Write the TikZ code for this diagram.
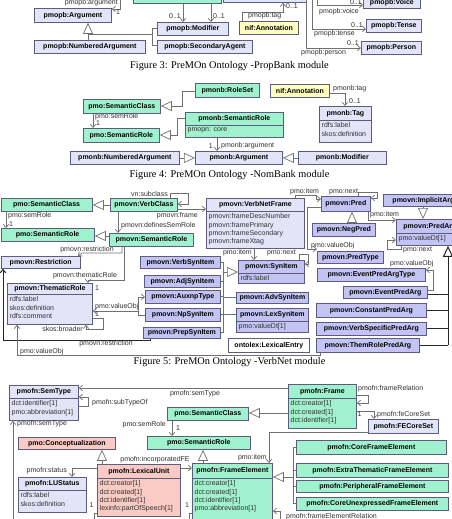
\documentclass[tikz,border=0pt]{standalone}
\usepackage{fontspec}
\setmainfont{Liberation Serif}
\newfontfamily\lsans{Liberation Sans}
\usetikzlibrary{arrows.meta}
\definecolor{lav}{HTML}{E4E4F9}
\definecolor{mlav}{HTML}{C4C4F4}
\definecolor{grn}{HTML}{A0F2CE}
\definecolor{yel}{HTML}{FFFFC2}
\definecolor{pnk}{HTML}{F9CBC4}
\definecolor{bord}{HTML}{5C5C80}
\definecolor{lnc}{HTML}{707070}
\definecolor{txc}{HTML}{303030}
\tikzset{
  box/.style={draw=bord, line width=0.8pt, inner sep=0pt, anchor=north west, font=\lsans\bfseries\fontsize{7}{8}\selectfont, text=black},
  attr/.style={anchor=north west, inner sep=0pt, align=left, font=\lsans\fontsize{7}{8.4}\selectfont, text=txc},
  lbl/.style={inner sep=0pt, font=\lsans\fontsize{7}{8}\selectfont, text=txc},
  ln/.style={draw=lnc, line width=0.7pt},
  lnk/.style={draw=black!85, line width=1pt},
  ar/.style={ln, -{Straight Barb[length=3.2pt,width=5.5pt]}},
  ark/.style={lnk, -{Straight Barb[length=3.2pt,width=5.5pt]}},
  gen/.style={ln, -{Triangle[open,length=11pt,width=10pt]}},
  genk/.style={lnk, -{Triangle[open,length=11pt,width=10pt]}},
  figcap/.style={inner sep=0pt, font=\fontsize{10.3}{12}\selectfont}
}
\newcommand\Bx[7]{\pgfmathsetmacro\bw{#4-#2}\pgfmathsetmacro\bh{#5-#3}%
  \node[box,fill=#6,minimum width=\bw pt,minimum height=\bh pt] (#1) at (#2,#3) {#7};}
\newcommand\Ax[7]{\pgfmathsetmacro\bw{#4-#2}\pgfmathsetmacro\bh{#5-#3}%
  \node[box,fill=#6,minimum width=\bw pt,minimum height=\bh pt] (#1) at (#2,#3) {};
  \node[attr] (#1t) at (#2+2.5,#3+2.5) {#7};}
\begin{document}
\begin{tikzpicture}[x=1pt,y=-1pt]
\useasboundingbox (0,0) rectangle (452,519);
\fill[white] (0,0) rectangle (452,519);
\clip (0,0) rectangle (452,519);
% ---------------- Figure 3 ----------------
\Bx{fthreeA}{133}{-12}{221}{3}{grn}{}
\Bx{fthreeB}{223}{-12}{306}{2}{lav}{}
\Bx{pbarg}{34}{8}{111}{22}{lav}{pmopb:Argument}
\Bx{pbnum}{34}{40}{145}{53}{lav}{pmopb:NumberedArgument}
\Bx{pbmod}{157}{22}{228}{35}{lav}{pmopb:Modifier}
\Bx{pbsec}{157}{40}{252}{53}{lav}{pmopb:SecondaryAgent}
\Bx{pbnif}{239}{21}{298}{34}{yel}{nif:Annotation}
\Bx{pbvoice}{363}{-3}{420}{8}{lav}{pmopb:Voice}
\Bx{pbtense}{366}{19}{421}{32}{lav}{pmopb:Tense}
\Bx{pbperson}{361}{41}{421}{54}{lav}{pmopb:Person}
\draw[ar] (fthreeA.west |- 0,-4) -- (120,-4) -- (120,9) -- (pbarg.east |- 0,9);
\node[lbl,anchor=east] (pbl1) at (118,3) {pmopb:argument};
\node[lbl] (pbl2) at (118,12) {1};
\draw[gen] (88,34) -- (pbarg.south -| 88,0);
\draw[ln] (pbnum.north -| 88,0) -- (88,34) -- (152,34);
\draw[ln] (152,28) -- (152,45);
\draw[ln] (152,28) -- (pbmod.west |- 0,28);
\draw[ln] (152,45) -- (pbsec.west |- 0,45);
\draw[ar] (fthreeA.south -| 183,0) -- (pbmod.north -| 183,0);
\node[lbl,anchor=east] (pbl3) at (181,16) {0..1};
\draw[ar] (fthreeA.south -| 211,0) -- (pbmod.north -| 211,0);
\node[lbl,anchor=west] (pbl4) at (213,16) {0..1};
\draw[ar] (pbnif.north -| 242,0) -- (242,12) -- (283,12) -- (fthreeB.south -| 283,0);
\node[lbl,anchor=west] (pbl5) at (248,15.5) {pmopb:tag};
\node[lbl,anchor=west] (pbl6) at (286,6.5) {0..1};
\draw[ar] (317,-12) -- (317,5) -- (pbvoice.west |- 0,5);
\node[lbl,anchor=east] (pbl7) at (362,2) {0..1};
\node[lbl,anchor=west] (pbl8) at (319,12) {pmopb:voice};
\draw[ar] (312,-12) -- (312,29) -- (pbtense.west |- 0,29);
\node[lbl,anchor=east] (pbl9) at (363,25) {0..1};
\node[lbl,anchor=west] (pbl10) at (314,33.5) {pmopb:tense};
\draw[ar] (306,-12) -- (306,48) -- (pbperson.west |- 0,48);
\node[lbl,anchor=east] (pbl11) at (359,43.5) {0..1};
\node[lbl,anchor=west] (pbl12) at (301,52.5) {pmopb:person};
\node[figcap] (cap3) at (229.5,66) {Figure 3: PreMOn Ontology -PropBank module};
% ---------------- Figure 4 ----------------
\Bx{nbRS}{195}{83}{259}{97}{grn}{pmonb:RoleSet}
\Bx{nbNif}{270}{84}{329}{97}{yel}{nif:Annotation}
\Bx{nbTag}{319}{106}{371}{120}{lav}{pmonb:Tag}
\Ax{nbTagA}{319}{120}{371}{142}{lav}{rdfs:label\\skos:definition}
\Bx{nbSC}{83}{99}{160}{113}{grn}{pmo:SemanticClass}
\Bx{nbSR}{83}{128}{159}{142}{grn}{pmo:SemanticRole}
\Bx{nbNSR}{185}{112}{283}{125}{grn}{pmonb:SemanticRole}
\Ax{nbNSRA}{185}{125}{283}{137}{grn}{pmopn: core}
\Bx{nbNum}{70}{151}{179}{164}{lav}{pmonb:NumberedArgument}
\Bx{nbArg}{195}{151}{282}{164}{lav}{pmonb:Argument}
\Bx{nbMod}{298}{151}{386}{164}{lav}{pmonb:Modifier}
\draw[gen] (nbRS.west |- 0,91) -- (182,91) -- (182,106) -- (nbSC.east |- 0,106);
\draw[gen] (nbNSR.west |- 0,118) -- (177,118) -- (177,135) -- (nbSR.east |- 0,135);
\draw[ar] (nbSC.south -| 93,0) -- (nbSR.north -| 93,0);
\node[lbl,anchor=west] (nbl1) at (95,117) {pmo:semRole};
\node[lbl,anchor=west] (nbl2) at (96,123.5) {1};
\draw[ar] (nbNif.east |- 0,93) -- (345,93) -- (nbTag.north -| 345,0);
\node[lbl,anchor=west] (nbl3) at (333,88.5) {pmonb:tag};
\node[lbl,anchor=west] (nbl4) at (349,101) {0..1};
\draw[ar] (nbNSRA.south -| 217,0) -- (nbArg.north -| 217,0);
\node[lbl,anchor=east] (nbl5) at (213,146.5) {1};
\node[lbl,anchor=west] (nbl6) at (221,145.5) {pmonb:argument};
\draw[gen] (nbNum.east) -- (nbArg.west);
\draw[gen] (nbMod.west) -- (nbArg.east);
\node[figcap] (cap4) at (229.5,175) {Figure 4: PreMOn Ontology -NomBank module};
% ---------------- Figure 5 ----------------
\Bx{vnSC}{0.5}{198}{92}{211}{grn}{pmo:SemanticClass}
\Bx{vnSR}{0.5}{228}{94}{241}{grn}{pmo:SemanticRole}
\Bx{vnVC}{110}{198}{177}{211}{grn}{pmovn:VerbClass}
\Bx{vnNSR}{109}{233}{193}{246}{grn}{pmovn:SemanticRole}
\Bx{vnVNF}{206}{198}{304}{211}{lav}{pmovn:VerbNetFrame}
\Ax{vnVNFA}{206}{211}{304}{248}{lav}{pmovn:frameDescNumber\\pmovn:framePrimary\\pmovn:frameSecondary\\pmovn:frameXtag}
\Bx{vnRes}{0.5}{256}{80}{268}{lav}{pmovn:Restriction}
\Bx{vnTR}{7}{283}{92}{294}{lav}{pmovn:ThematicRole}
\Ax{vnTRA}{7}{294}{92}{324}{lav}{rdfs:label\\skos:definition\\rdfs:comment}
\Bx{vnVSI}{140}{256}{220}{268}{mlav}{pmovn:VerbSynItem}
\Bx{vnAdj}{144}{275}{220}{287}{mlav}{pmovn:AdjSynItem}
\Bx{vnAux}{145}{290}{220}{303}{mlav}{pmovn:AuxnpType}
\Bx{vnNp}{145}{308}{220}{321}{mlav}{pmovn:NpSynItem}
\Bx{vnPrep}{143}{327}{220}{338}{mlav}{pmovn:PrepSynItem}
\Bx{vnSyn}{238}{260}{304}{273}{mlav}{pmovn:SynItem}
\Ax{vnSynA}{238}{273}{304}{283}{mlav}{rdfs:label}
\Bx{vnAdv}{236}{292}{308}{303}{mlav}{pmovn:AdvSynItem}
\Bx{vnLex}{236}{308}{308}{321}{mlav}{pmovn:LexSynItem}
\Ax{vnLexA}{236}{321}{308}{332}{mlav}{pmo:valueDt[1]}
\Bx{vnLE}{228}{338}{309}{352}{white}{ontolex:LexicalEntry}
\Bx{vnPred}{321}{196}{370}{211}{mlav}{pmovn:Pred}
\Bx{vnNeg}{312}{223}{375}{236}{mlav}{pmovn:NegPred}
\Bx{vnImp}{383}{194}{463}{206}{mlav}{pmovn:ImplicitArg}
\Bx{vnPA}{396}{219}{463}{233}{mlav}{pmovn:PredArg}
\Ax{vnPAA}{396}{233}{463}{245}{mlav}{pmo:valueDt[1]}
\Bx{vnPT}{317}{251}{383}{263}{mlav}{pmovn:PredType}
\Bx{vnEPAT}{317}{268}{425}{281}{mlav}{pmovn:EventPredArgType}
\Bx{vnEPA}{343}{286}{427}{298}{mlav}{pmovn:EventPredArg}
\Bx{vnCPA}{316}{303}{426}{317}{mlav}{pmovn:ConstantPredArg}
\Bx{vnVSPA}{316}{322}{426}{335}{mlav}{pmovn:VerbSpecificPredArg}
\Bx{vnTRPA}{316}{338}{419}{352}{mlav}{pmovn:ThemRolePredArg}
\draw[gen] (vnVC.west |- 0,205) -- (vnSC.east |- 0,205);
\draw[gen] (vnNSR.west |- 0,236) -- (vnSR.east |- 0,236);
\draw[ar] (vnVC.north -| 170,0) -- (170,193) -- (188,193) -- (188,204) -- (vnVC.east |- 0,204);
\node[lbl,anchor=east] (vnl1) at (168,194) {vn:subclass};
\draw[ar] (vnVC.east |- 0,209) -- (vnVNF.west |- 0,209);
\node[lbl,anchor=east] (vnl2) at (198,215.5) {pmovn:frame};
\draw[ar] (vnVC.south -| 118,0) -- (vnNSR.north -| 118,0);
\node[lbl,anchor=west] (vnl3) at (121,226) {pmovn:definesSemRole};
\draw[ar] (vnSC.south -| 6,0) -- (vnSR.north -| 6,0);
\node[lbl,anchor=west] (vnl4) at (8,216) {pmo:semRole};
\node[lbl,anchor=west] (vnl5) at (9,224) {1};
\draw[ar] (vnNSR.south -| 122,0) -- (122,253) -- (82,253) -- (vnRes.north -| 78,0);
\node[lbl] (vnl6) at (87,250) {pmovn:restriction};
\draw[ar] (vnNSR.south -| 124,0) -- (124,280) -- (88,280) -- (vnTR.north -| 88,0);
\node[lbl] (vnl7) at (85,276) {pmovn:thematicRole};
\node[lbl] (vnl8) at (97,288) {1};
\draw[ark] (vnPrep.south -| 150,0) -- (150,340) -- (3,340) -- (vnRes.south -| 3,0);
\node[lbl] (vnl9) at (106,344) {pmovn:restriction};
\draw[ar] (vnTRPA.south -| 320,0) -- (320,355) -- (17,355) -- (vnTRA.south -| 17,0);
\node[lbl,anchor=west] (vnl10) at (20,351.5) {pmo:valueObj};
\draw[ln] (vnNp.west |- 0,315) -- (138,315) -- (138,311);
\draw[ar] (138,311) -- (138,297) -- (vnAux.west |- 0,297);
\draw[ar] (138,311) -- (vnTRA.east |- 0,311);
\node[lbl,anchor=west] (vnl11) at (95,306.5) {pmo:valueObj};
\node[lbl] (vnl12) at (97,314.5) {1};
\draw[ar] (vnTRA.east |- 0,318) -- (103,318) -- (103,329) -- (86,329) -- (vnTRA.south -| 86,0);
\node[lbl,anchor=east] (vnl13) at (83,328.5) {skos:broader};
\draw[ar] (vnVNFA.south -| 254,0) -- (vnSyn.north -| 254,0);
\node[lbl,anchor=east] (vnl14) at (252,253) {pmo:item};
\draw[ar] (vnSyn.north -| 299,0) -- (299,254) -- (308,254) -- (308,264) -- (vnSyn.east |- 0,264);
\node[lbl,anchor=east] (vnl15) at (296,252.5) {pmo:next};
\draw[ln] (vnVSI.east |- 0,262) -- (223,262);
\draw[ln] (vnAdj.east |- 0,281) -- (223,281);
\draw[ln] (vnAux.east |- 0,296.5) -- (223,296.5);
\draw[ln] (vnNp.east |- 0,314.5) -- (223,314.5);
\draw[ln] (vnPrep.east |- 0,332.5) -- (223,332.5);
\draw[ln] (223,262) -- (223,332.5);
\draw[ln] (vnAdv.west |- 0,297) -- (223,297);
\draw[ln] (vnLex.west |- 0,314) -- (223,314);
\draw[gen] (223,272) -- (vnSyn.west |- 0,272);
\draw[ar] (vnVNF.north -| 295,0) -- (295,195) -- (316,195) -- (316,199) -- (vnPred.west |- 0,199);
\node[lbl,anchor=west] (vnl16) at (290,192) {pmo:item};
\draw[ar] (vnPred.north -| 358,0) -- (358,192) -- (377,192) -- (377,198) -- (vnPred.east |- 0,198);
\node[lbl,anchor=west] (vnl17) at (329,192) {pmo:next};
\draw[gen] (vnNeg.north -| 352,0) -- (vnPred.south -| 352,0);
\draw[gen] (vnImp.south -| 423,0) -- (vnPA.north -| 423,0);
\draw[ar] (vnPred.south -| 368,0) -- (368,220) -- (vnPA.west |- 0,220);
\node[lbl,anchor=west] (vnl18) at (370,215) {pmo:item};
\draw[ar] (vnPAA.south -| 401,0) -- (401,249) -- (387,249) -- (387,240) -- (vnPAA.west |- 0,240);
\node[lbl,anchor=west] (vnl19) at (403,249.5) {pmo:next};
\draw[ar] (vnPred.west |- 0,207) -- (307,207) -- (307,249) -- (317,249);
\node[lbl,anchor=west] (vnl20) at (311,246) {pmo:valueObj};
\draw[ar] (vnEPA.east |- 0,290) -- (433,290) -- (433,270) -- (vnEPAT.east |- 0,270);
\node[lbl,anchor=west] (vnl21) at (390,264) {pmo:valueObj};
\draw[genk] (448,257) -- (vnPAA.south -| 448,0);
\draw[lnk] (448,257) -- (448,345);
\draw[lnk] (vnEPA.east |- 0,294) -- (448,294);
\draw[lnk] (vnCPA.east |- 0,310) -- (448,310);
\draw[lnk] (vnVSPA.east |- 0,328.5) -- (448,328.5);
\draw[lnk] (vnTRPA.east |- 0,345) -- (448,345);
\node[figcap] (cap5) at (229.5,362) {Figure 5: PreMOn Ontology -VerbNet module};
% ---------------- Figure 6 ----------------
\Bx{fnST}{9}{385}{78}{398}{lav}{pmofn:SemType}
\Ax{fnSTA}{9}{398}{78}{420}{lav}{dct:identifier[1]\\pmo:abbreviation[1]}
\Bx{fnFr}{288}{384}{356}{398}{grn}{pmofn:Frame}
\Ax{fnFrA}{288}{398}{356}{428}{grn}{dct:creator[1]\\dct:created[1]\\dct:identifier[1]}
\Bx{fnFCS}{368}{419}{438}{433}{lav}{pmofn:FECoreSet}
\Bx{fnSC}{167}{407}{248}{420}{grn}{pmo:SemanticClass}
\Bx{fnSR}{147}{436}{250}{449}{grn}{pmo:SemanticRole}
\Bx{fnCon}{18}{437}{115}{449}{pnk}{pmo:Conceptualization}
\Bx{fnLU}{97}{464}{180}{478}{pnk}{pmofn:LexicalUnit}
\Ax{fnLUA}{97}{478}{180}{516}{pnk}{dct:creator[1]\\dct:created[1]\\dct:identifier[1]\\lexinfo:partOfSpeech[1]}
\Bx{fnLUS}{18}{477}{86}{490}{lav}{pmofn:LUStatus}
\Ax{fnLUSA}{18}{490}{86}{512}{lav}{rdfs:label\\skos:definition}
\Bx{fnFE}{192}{463}{272}{478}{grn}{pmofn:FrameElement}
\Ax{fnFEA}{192}{478}{272}{530}{grn}{dct:creator[1]\\dct:created[1]\\dct:identifier[1]\\pmo:abbreviation[1]}
\Bx{fnCFE}{296}{440}{446}{454}{grn}{pmofn:CoreFrameElement}
\Bx{fnETFE}{296}{463}{448}{477}{grn}{pmofn:ExtraThematicFrameElement}
\Bx{fnPFE}{296}{480}{448}{492}{grn}{pmofn:PeripheralFrameElement}
\Bx{fnCUFE}{296}{497}{448}{510}{grn}{pmofn:CoreUnexpressedFrameElement}
\draw[ar] (fnFr.west |- 0,388) -- (fnST.east |- 0,388);
\node[lbl] (fnl1) at (195,393.5) {pmofn:semType};
\draw[ar] (fnST.east |- 0,406) -- (88,406) -- (88,397) -- (fnST.east |- 0,397);
\node[lbl,anchor=west] (fnl2) at (92,402.5) {pmofn:subTypeOf};
\draw[ar] (13,525) -- (fnSTA.south -| 13,0);
\node[lbl,anchor=west] (fnl3) at (17,423.5) {pmofn:semType};
\draw[ar] (fnFr.east |- 0,395) -- (368,395) -- (368,403) -- (fnFrA.east |- 0,403);
\node[lbl,anchor=west] (fnl4) at (358,389) {pmofn:frameRelation};
\draw[ar] (fnFrA.east |- 0,411) -- (374,411) -- (fnFCS.north -| 374,0);
\node[lbl] (fnl5) at (359.5,414) {1};
\node[lbl,anchor=west] (fnl6) at (377,415) {pmofn:feCoreSet};
\draw[gen] (fnFrA.west |- 0,413) -- (fnSC.east |- 0,413);
\draw[ar] (fnSC.south -| 172,0) -- (fnSR.north -| 172,0);
\node[lbl,anchor=east] (fnl7) at (166,424.5) {pmo:semRole};
\node[lbl,anchor=west] (fnl8) at (176,428.5) {1};
\draw[gen] (fnLU.north -| 102,0) -- (fnCon.south -| 102,0);
\draw[gen] (fnFE.north -| 203,0) -- (fnSR.south -| 203,0);
\draw[ar] (fnLU.east |- 0,468) -- (fnFE.west |- 0,468);
\node[lbl] (fnl9) at (155,459.5) {pmofn:incorporatedFE};
\draw[ar] (fnLU.west |- 0,468) -- (72,468) -- (fnLUS.north -| 72,0);
\node[lbl,anchor=east] (fnl10) at (67,470.5) {pmofn:status};
\draw[ar] (fnFCS.west |- 0,432) -- (269,432) -- (fnFE.north -| 269,0);
\node[lbl,anchor=east] (fnl11) at (267,457.5) {pmo:item};
\draw[gen] (293,477) -- (fnFE.east |- 0,477);
\draw[ln] (293,447) -- (293,503.5);
\draw[ln] (fnCFE.west |- 0,447) -- (293,447);
\draw[ln] (fnETFE.west |- 0,470) -- (293,470);
\draw[ln] (fnPFE.west |- 0,486) -- (293,486);
\draw[ln] (fnCUFE.west |- 0,503.5) -- (293,503.5);
\draw[ar] (280,525) -- (280,511) -- (fnFEA.east |- 0,511);
\node[lbl,anchor=west] (fnl12) at (286,516.5) {pmofn:frameElementRelation};
\draw[ln] (fnLUA.west |- 0,513) -- (94,513) -- (94,525);
\node[lbl] (fnl13) at (91.5,505.5) {1};
\draw[ln] (fnFEA.west |- 0,513) -- (189,513) -- (189,525);
\node[lbl] (fnl14) at (187,505.5) {1};
\end{tikzpicture}
\end{document}
